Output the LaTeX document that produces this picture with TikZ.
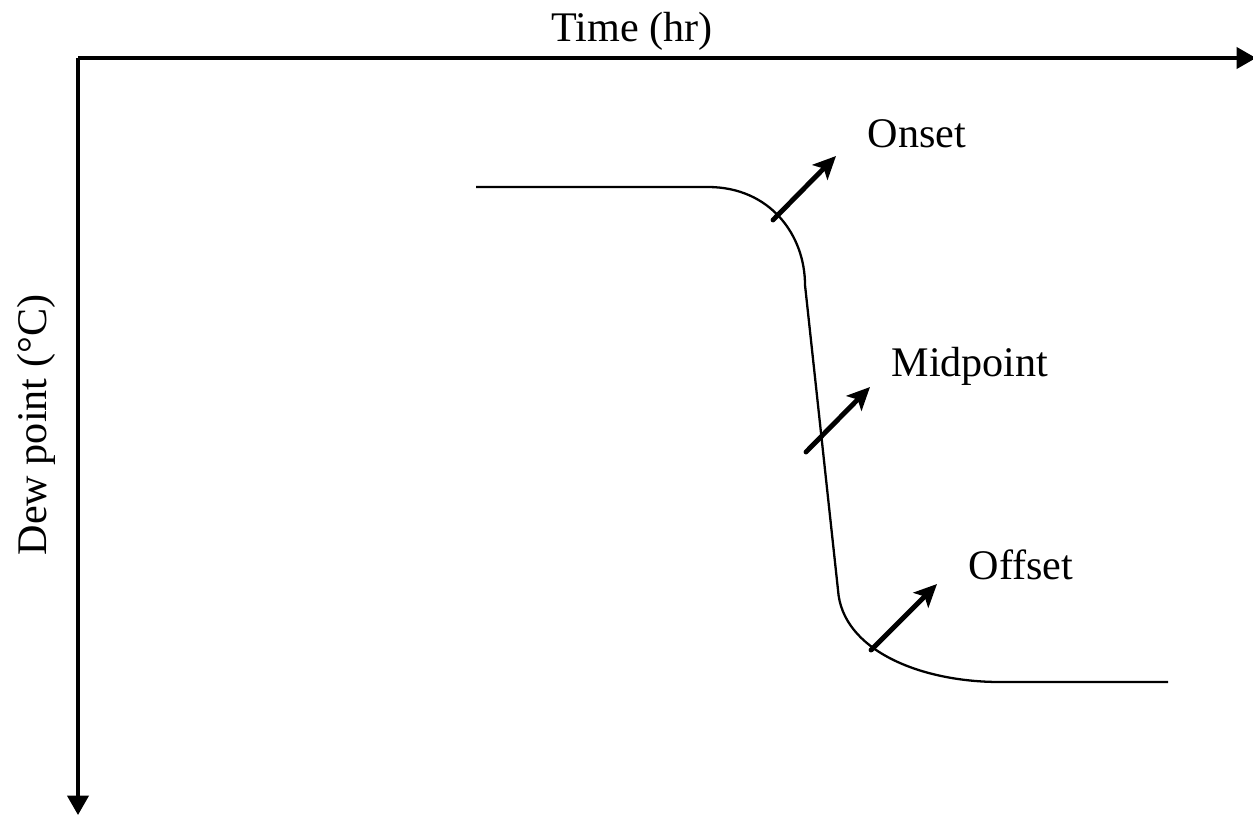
\documentclass[tikz,border=0pt]{standalone}
\usepackage{fontspec}
\setmainfont{Liberation Serif}
\usetikzlibrary{arrows.meta}
\begin{document}
\begin{tikzpicture}[x=0.02cm,y=-0.02cm,
  axis/.style={line width=2pt,-{Triangle[length=11pt,width=12pt]}},
  curveline/.style={line width=1.3pt},
  pointer/.style={line width=2.8pt,line cap=round,-{Stealth[length=13pt,width=12pt,inset=3pt]}},
  lbl/.style={font=\fontsize{24}{28}\selectfont,inner sep=0pt}]
\useasboundingbox (0,0) rectangle (1253,815);
\coordinate (o) at (78,58);
\coordinate (xe) at (1256,58);
\coordinate (ye) at (78,815);
\draw[axis] (o) -- (xe);
\draw[axis] (o) -- (ye);
\node[lbl] (xl) at (632,31) {Time (hr)};
\node[lbl,rotate=90] (yl) at (36,425) {Dew point (°C)};
\coordinate (c0) at (476,187);
\coordinate (c1) at (708,187);
\coordinate (c2) at (805,285);
\coordinate (c3) at (838,590);
\coordinate (c4) at (1000,682);
\coordinate (c5) at (1168,682);
\draw[curveline] (c0) -- (c1) .. controls (770,187) and (805,235) .. (c2) -- (c3)
  .. controls (842,650) and (920,682) .. (c4) -- (c5);
\coordinate (a1s) at (773,220);
\coordinate (a1e) at (836,156);
\coordinate (a2s) at (806,452);
\coordinate (a2e) at (870,387);
\coordinate (a3s) at (871,650);
\coordinate (a3e) at (937,584);
\draw[pointer] (a1s) -- (a1e);
\draw[pointer] (a2s) -- (a2e);
\draw[pointer] (a3s) -- (a3e);
\node[lbl] (on) at (917,134) {Onset};
\node[lbl] (mid) at (970,366) {Midpoint};
\node[lbl] (off) at (1021,565) {Offset};
\end{tikzpicture}
\end{document}
